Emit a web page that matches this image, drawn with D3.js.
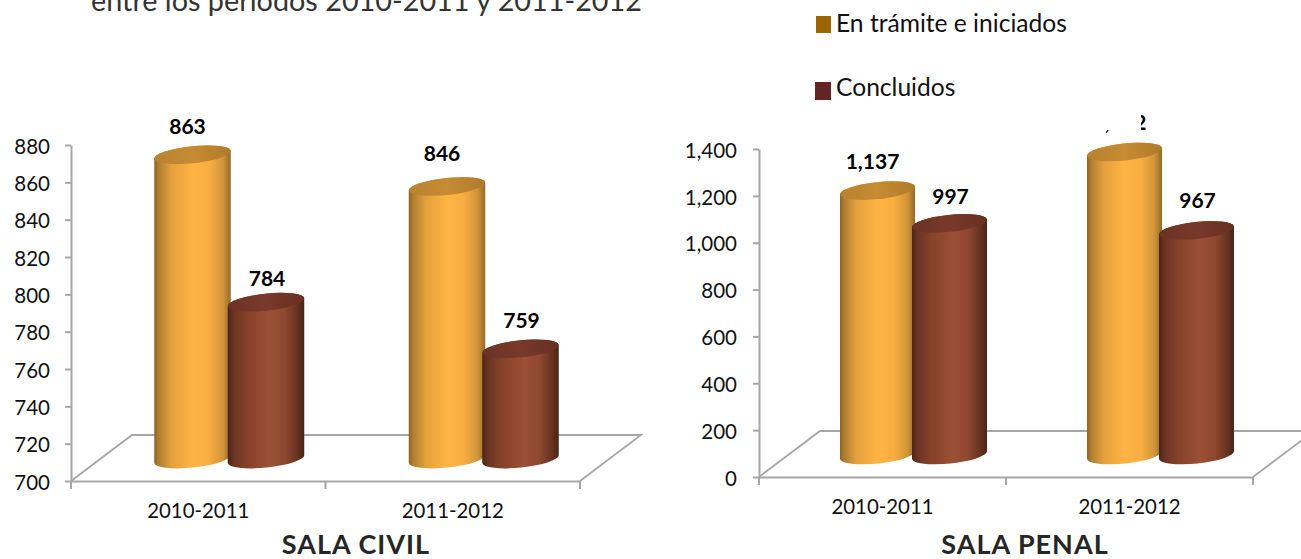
<!DOCTYPE html>
<html lang="es">
<head>
<meta charset="utf-8">
<title>Sala Civil y Sala Penal</title>
<script src="https://cdn.jsdelivr.net/npm/d3@7"></script>
<style>
html,body{margin:0;padding:0;background:#fff;overflow:hidden}
svg{display:block}
text{font-family:Lato,"Open Sans",sans-serif}
</style>
</head>
<body>
<svg id="c" width="1301" height="559"></svg>
<script>
const periods = ["2010-2011", "2011-2012"];
const seriesNames = ["En trámite e iniciados", "Concluidos"];
const civilTramite = [863, 846];
const civilConcluidos = [784, 759];
const penalTramite = [1137, 1302];
const penalConcluidos = [997, 967];
const civilTicks = [700,720,740,760,780,800,820,840,860,880];
const penalTicks = [0,200,400,600,800,1000,1200,1400];
const titleText = "entre los períodos 2010-2011 y 2011-2012";

const svg = d3.select("#c");
const defs = svg.append("defs");

function grad(id, stops){
  const g = defs.append("linearGradient").attr("id", id).attr("x1","0").attr("x2","1").attr("y1","0").attr("y2","0");
  stops.forEach(([o,c]) => g.append("stop").attr("offset", o).attr("stop-color", c));
}
grad("bodyA", [[0,"#8d6425"],[.06,"#b07f30"],[.22,"#e3a03c"],[.5,"#ffb443"],[.72,"#f8ae40"],[.9,"#d0943a"],[1,"#94692a"]]);
grad("bodyB", [[0,"#4c2519"],[.08,"#6a3423"],[.25,"#854129"],[.55,"#9c5036"],[.75,"#8e472f"],[.92,"#63311f"],[1,"#4a2418"]]);
grad("topA", [[0,"#b98230"],[.5,"#c68b33"],[1,"#b07a2b"]]);
grad("topB", [[0,"#6b3324"],[.5,"#77392a"],[1,"#683022"]]);

const AXIS = "#a6a6a6";

function panel(cfg){
  const g = svg.append("g");
  const y = d3.scaleLinear().domain(cfg.domain).range([cfg.bottom, cfg.top]);
  const x = d3.scaleBand().domain(periods).range([cfg.left, cfg.right]);

  // floor
  const fx0 = cfg.left, fx1 = cfg.right, fy = y(cfg.domain[0]);
  g.append("path")
    .attr("d", d3.line()([[fx0,fy],[fx0+cfg.floorDx,fy-cfg.floorDy],[fx1+cfg.floorDx,fy-cfg.floorDy],[fx1,fy]]))
    .attr("fill","none").attr("stroke",AXIS).attr("stroke-width",1.8);

  // y axis
  const ya = g.append("g").attr("transform",`translate(${cfg.left},0)`)
    .call(d3.axisLeft(y).tickValues(cfg.ticks).tickFormat(d3.format(",")).tickSizeInner(6).tickSizeOuter(0).tickPadding(cfg.yPad));
  ya.selectAll("path,line").attr("stroke",AXIS).attr("stroke-width",2);
  ya.selectAll("text").attr("dy","0.4em").attr("fill","#111").style("font-size","20.5px").style("font-family","Lato");

  // x axis
  const xa = g.append("g").attr("transform",`translate(0,${fy})`)
    .call(d3.axisBottom(x).tickSize(0).tickPadding(23));
  xa.selectAll("path").attr("stroke",AXIS).attr("stroke-width",2);
  xa.selectAll("text").attr("fill","#111").style("font-size","20.4px").style("font-family","Lato");
  const edges = periods.map(p => x(p)).concat([x.range()[1]]);
  xa.selectAll("line.edge").data(edges).join("line").attr("class","edge")
    .attr("x1",d=>d).attr("x2",d=>d).attr("y1",0).attr("y2",8)
    .attr("stroke",AXIS).attr("stroke-width",2);

  // cylinders
  const w = cfg.barW, rx = w/2, tilt = 4, ry = 8.5, rot = -6;
  const series = [
    {values:cfg.a, body:"url(#bodyA)", top:"url(#topA)", off:-w/2+1.5, ldx:-5, nudge:cfg.nudgeA},
    {values:cfg.b, body:"url(#bodyB)", top:"url(#topB)", off:w/2-1.5, ldx:1, nudge:cfg.nudgeB}
  ];
  series.forEach(s => {
    const cyl = g.append("g").selectAll("g").data(periods).join("g");
    cyl.each(function(p,i){
      const cx = x(p) + x.bandwidth()/2 + cfg.depthX + s.off;
      const yb = y(cfg.domain[0]) - cfg.baseDepth;
      const yt = y(s.values[i]) - cfg.depthY;
      const c = d3.select(this);
      c.append("path")
        .attr("d",`M${cx-rx},${yt+tilt}L${cx-rx},${yb+tilt}A${rx},${ry},${rot},0,0,${cx+rx},${yb-tilt}L${cx+rx},${yt-tilt}A${rx},${ry},${rot},0,0,${cx-rx},${yt+tilt}Z`)
        .attr("fill",s.body);
      c.append("ellipse").attr("cx",0).attr("cy",0).attr("rx",rx).attr("ry",ry)
        .attr("transform",`translate(${cx},${yt}) rotate(${rot})`)
        .attr("fill",s.top);
    });
  });
  // value labels above everything in the panel
  series.forEach(s => {
    g.append("g").selectAll("text").data(periods).join("text")
      .attr("x",(p)=>x(p)+x.bandwidth()/2+cfg.depthX+s.off+s.ldx)
      .attr("y",(p,i)=>y(s.values[i])-cfg.depthY-21+s.nudge[i])
      .attr("text-anchor","middle").attr("font-weight",700).attr("font-size",21).attr("fill","#000")
      .text((p,i)=>d3.format(",")(s.values[i]));
  });
  // panel title
  g.append("text").attr("x",cfg.titleX).attr("y",553.5).attr("text-anchor","middle")
    .attr("font-weight",700).attr("font-size",27).attr("letter-spacing",1).attr("fill","#262626").text(cfg.title);
}

panel({domain:[700,880],ticks:civilTicks,a:civilTramite,b:civilConcluidos,left:71,right:580,top:145,bottom:481,
  floorDx:61,floorDy:46,depthX:31,depthY:22,baseDepth:22,barW:76.5,yPad:15,title:"SALA CIVIL",titleX:356,
  nudgeA:[0,-4],nudgeB:[5,0]});
panel({domain:[0,1400],ticks:penalTicks,a:penalTramite,b:penalConcluidos,left:759,right:1253,top:149,bottom:477,
  floorDx:61,floorDy:46,depthX:31,depthY:20,baseDepth:22,barW:75,yPad:16,title:"SALA PENAL",titleX:1025,
  nudgeA:[-1,-1],nudgeB:[2,-1]});

// white slide shapes that hide most of the 1,302 label in the source
svg.append("rect").attr("x",1090).attr("y",100).attr("width",70).attr("height",15).attr("fill","#fff");
svg.append("rect").attr("x",1090).attr("y",115).attr("width",51).attr("height",15).attr("fill","#fff");

// slide heading, cut by the top edge
svg.append("text").attr("x",91).attr("y",11).attr("font-size",28.8).attr("fill","#333").text(titleText);

// legend
const legColors = ["#9c6500","#632523"];
const legY = d3.scalePoint().domain(seriesNames).range([24,88]);
const leg = svg.append("g").selectAll("g").data(seriesNames).join("g")
  .attr("transform",d=>`translate(0,${legY(d)})`);
leg.append("rect").attr("x",(d,i)=>i?815:816).attr("y",(d,i)=>i?-6:-8).attr("width",(d,i)=>i?16:15).attr("height",(d,i)=>i?18:17)
  .attr("fill",(d,i)=>legColors[i]);
leg.append("text").attr("x",836).attr("y",8).attr("font-size",24.6).attr("fill","#111").text(d=>d);
</script>
</body>
</html>
